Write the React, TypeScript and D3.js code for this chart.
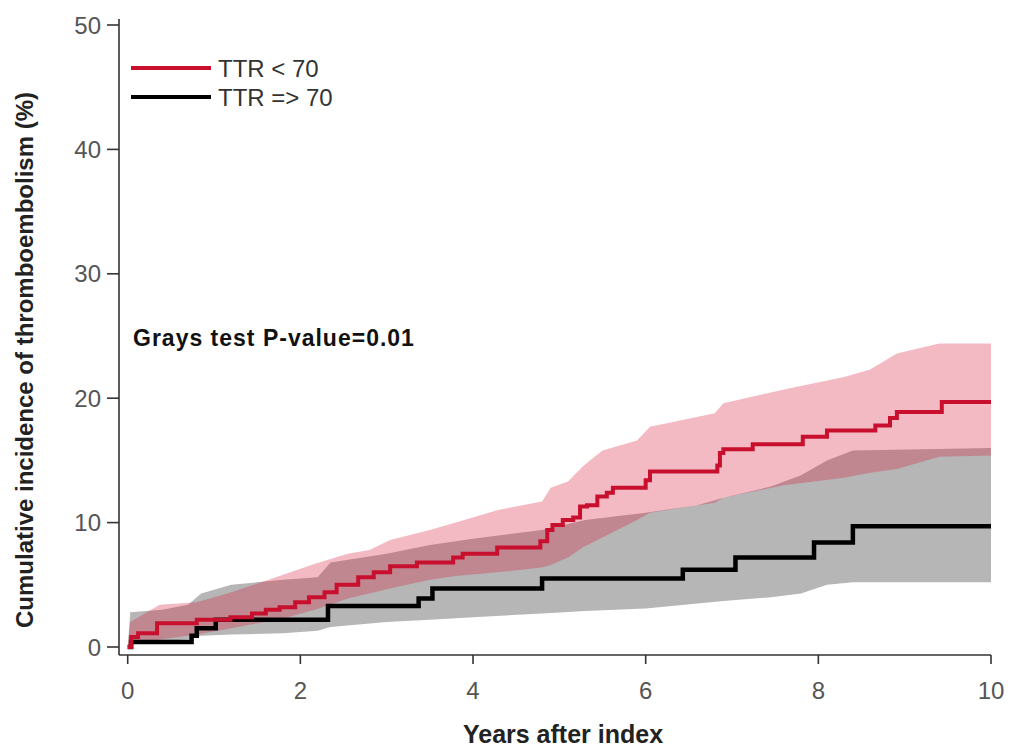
import React from "react";
import * as d3 from "d3";

// step curves (time in years, cumulative incidence %)
const lowTime = [0, 0.04, 0.12, 0.34, 0.8, 1.19, 1.44, 1.6, 1.76, 1.94, 2.1, 2.28, 2.42, 2.67, 2.85, 3.04, 3.35, 3.77, 3.88, 4.28, 4.78, 4.86, 4.92, 5.04, 5.16, 5.24, 5.32, 5.44, 5.55, 5.62, 6.0, 6.05, 6.83, 6.86, 6.9, 7.24, 7.82, 8.1, 8.66, 8.83, 8.91, 9.43, 10];
const lowValue = [0, 0.8, 1.1, 1.9, 2.2, 2.4, 2.7, 3.0, 3.2, 3.6, 4.0, 4.4, 5.0, 5.6, 6.0, 6.5, 6.8, 7.2, 7.5, 8.0, 8.5, 9.4, 9.8, 10.2, 10.4, 11.3, 11.4, 12.1, 12.4, 12.8, 13.4, 14.1, 14.6, 15.6, 15.9, 16.3, 16.9, 17.4, 17.8, 18.4, 18.9, 19.7, 19.7];

const highTime = [0, 0.04, 0.74, 0.8, 1.02, 2.32, 3.37, 3.53, 4.8, 6.43, 7.04, 7.95, 8.4, 10];
const highValue = [0, 0.4, 0.9, 1.5, 2.2, 3.3, 3.9, 4.7, 5.5, 6.2, 7.2, 8.4, 9.7, 9.7];

// confidence bands
const lowBandTime = [0, 0.03, 0.37, 0.8, 1.2, 1.8, 2.17, 2.55, 2.8, 3.04, 3.5, 3.8, 4.28, 4.8, 4.9, 5.1, 5.27, 5.5, 5.9, 6.05, 6.8, 6.9, 7.6, 8.3, 8.6, 8.91, 9.4, 10];
const lowBandUpper = [0, 2.0, 3.4, 3.6, 4.4, 5.8, 6.7, 7.5, 7.8, 8.6, 9.4, 10.0, 11.0, 11.7, 12.8, 13.3, 14.5, 15.8, 16.6, 17.7, 18.8, 19.6, 20.7, 21.7, 22.3, 23.6, 24.4, 24.4];
const lowBandLower = [0, 0.3, 0.6, 1.0, 1.5, 2.3, 3.0, 3.9, 4.3, 4.7, 5.4, 5.7, 6.0, 6.4, 6.6, 7.2, 8.0, 8.8, 10.2, 10.8, 11.6, 12.0, 13.0, 13.6, 14.0, 14.3, 15.3, 15.4];

const highBandTime = [0, 0.03, 0.4, 0.7, 0.85, 1.2, 1.8, 2.2, 2.35, 3.0, 3.5, 4.0, 4.8, 5.3, 6.0, 6.6, 6.9, 7.45, 7.8, 8.1, 8.4, 10];
const highBandUpper = [0, 2.8, 3.0, 3.4, 4.3, 5.0, 5.4, 5.6, 6.8, 7.5, 8.2, 8.7, 9.4, 10.2, 10.8, 11.4, 12.0, 12.9, 13.8, 15.0, 15.8, 16.0];
const highBandLower = [0, 0.3, 0.5, 0.6, 0.9, 1.0, 1.1, 1.3, 1.6, 2.0, 2.2, 2.4, 2.7, 2.9, 3.1, 3.5, 3.7, 4.0, 4.3, 5.0, 5.2, 5.2];

const yTicks = [0, 10, 20, 30, 40, 50];
const xTicks = [0, 2, 4, 6, 8, 10];

const legendLabels = ["TTR < 70", "TTR => 70"];
const RED = "#c8102e";

export default function App() {
  const width = 1011;
  const height = 751;
  const x = d3.scaleLinear().domain([0, 10]).range([127.7, 991]);
  const y = d3.scaleLinear().domain([0, 50]).range([647, 25]);
  const axisX = 119;
  const axisY = 655;

  const line = d3
    .line<[number, number]>()
    .x((d) => x(d[0]))
    .y((d) => y(d[1]))
    .curve(d3.curveStepAfter);

  const area = d3
    .area<[number, number, number]>()
    .x((d) => x(d[0]))
    .y0((d) => y(d[2]))
    .y1((d) => y(d[1]));

  const lowBand = lowBandTime.map((t, i) => [t, lowBandUpper[i], lowBandLower[i]] as [number, number, number]);
  const highBand = highBandTime.map((t, i) => [t, highBandUpper[i], highBandLower[i]] as [number, number, number]);
  const lowPts = lowTime.map((t, i) => [t, lowValue[i]] as [number, number]);
  const highPts = highTime.map((t, i) => [t, highValue[i]] as [number, number]);

  const font = "Liberation Sans, Arial, sans-serif";

  return (
    <svg width={width} height={height} style={{ position: "absolute", left: 0, top: 0, background: "#fff" }} fontFamily={font}>
      {/* bands */}
      <path d={area(highBand) || ""} fill="#b6b6b6" />
      <path d={area(lowBand) || ""} fill="rgb(215,25,60)" fillOpacity={0.3} />

      {/* step lines */}
      <path d={line(highPts) || ""} fill="none" stroke="#000" strokeWidth={4.5} />
      <path d={line(lowPts) || ""} fill="none" stroke={RED} strokeWidth={4} />

      {/* y axis */}
      <line x1={axisX} x2={axisX} y1={19} y2={axisY} stroke="#333" strokeWidth={1.6} />
      {yTicks.map((t) => (
        <g key={"y" + t}>
          <line x1={axisX - 12} x2={axisX} y1={y(t)} y2={y(t)} stroke="#333" strokeWidth={1.6} />
          <text x={axisX - 18} y={y(t)} dy="0.36em" textAnchor="end" fontSize={24} fill="#555">
            {t}
          </text>
        </g>
      ))}

      {/* x axis */}
      <line x1={axisX} x2={x(10)} y1={axisY} y2={axisY} stroke="#333" strokeWidth={1.6} />
      {xTicks.map((t) => (
        <g key={"x" + t}>
          <line x1={x(t)} x2={x(t)} y1={axisY} y2={axisY + 9} stroke="#333" strokeWidth={1.6} />
          <text x={x(t)} y={699} textAnchor="middle" fontSize={24} fill="#555">
            {t}
          </text>
        </g>
      ))}

      {/* axis titles */}
      <text x={563} y={743} textAnchor="middle" fontSize={25} fontWeight="bold" fill="#222">
        Years after index
      </text>
      <text
        transform={`translate(33,360) rotate(-90)`}
        textAnchor="middle"
        fontSize={24}
        fontWeight="bold"
        fill="#222"
      >
        Cumulative incidence of thromboembolism (%)
      </text>

      {/* legend */}
      {legendLabels.map((l, i) => (
        <g key={l} transform={`translate(131,${68 + i * 29})`}>
          <line x1={0} x2={80} y1={0} y2={0} stroke={i === 0 ? RED : "#000"} strokeWidth={4} />
          <text x={87} y={0} dy="0.36em" fontSize={24} fill="#333">
            {l}
          </text>
        </g>
      ))}

      <text x={133} y={346} fontSize={23} letterSpacing={1} fontWeight="bold" fill="#111">
        Grays test P-value=0.01
      </text>
    </svg>
  );
}
